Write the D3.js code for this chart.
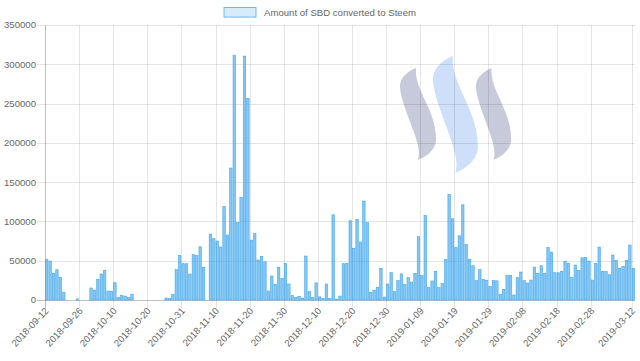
<!DOCTYPE html>
<html><head><meta charset="utf-8">
<script src="https://cdn.jsdelivr.net/npm/d3@7"></script>
<style>html,body{margin:0;padding:0;background:#fff}svg{display:block}</style>
</head><body>
<script>
const dates = [
"2018-09-12","2018-09-13","2018-09-14","2018-09-15","2018-09-16","2018-09-17","2018-09-19","2018-09-21","2018-09-23","2018-09-25",
"2018-09-26","2018-09-28","2018-09-30","2018-10-02","2018-10-03","2018-10-04","2018-10-05","2018-10-06","2018-10-07","2018-10-09",
"2018-10-10","2018-10-11","2018-10-12","2018-10-13","2018-10-14","2018-10-15","2018-10-16","2018-10-17","2018-10-18","2018-10-19",
"2018-10-20","2018-10-21","2018-10-22","2018-10-23","2018-10-24","2018-10-25","2018-10-26","2018-10-27","2018-10-28","2018-10-29",
"2018-10-31",
"2018-11-01","2018-11-02","2018-11-03","2018-11-04","2018-11-05","2018-11-06","2018-11-07","2018-11-08","2018-11-09","2018-11-10",
"2018-11-11","2018-11-12","2018-11-13","2018-11-14","2018-11-15","2018-11-16","2018-11-17","2018-11-18","2018-11-19","2018-11-20",
"2018-11-21","2018-11-22","2018-11-23","2018-11-24","2018-11-25","2018-11-26","2018-11-27","2018-11-28","2018-11-29","2018-11-30",
"2018-12-01","2018-12-02","2018-12-03","2018-12-04","2018-12-05","2018-12-06","2018-12-07","2018-12-08","2018-12-09","2018-12-10",
"2018-12-11","2018-12-12","2018-12-13","2018-12-14","2018-12-15","2018-12-16","2018-12-17","2018-12-18","2018-12-19","2018-12-20",
"2018-12-21","2018-12-22","2018-12-23","2018-12-24","2018-12-25","2018-12-26","2018-12-27","2018-12-28","2018-12-29","2018-12-30","2018-12-31",
"2019-01-01","2019-01-02","2019-01-03","2019-01-04","2019-01-05","2019-01-06","2019-01-07","2019-01-08","2019-01-09","2019-01-10",
"2019-01-11","2019-01-12","2019-01-13","2019-01-14","2019-01-15","2019-01-16","2019-01-17","2019-01-18","2019-01-19","2019-01-20",
"2019-01-21","2019-01-22","2019-01-23","2019-01-24","2019-01-25","2019-01-26","2019-01-27","2019-01-28","2019-01-29","2019-01-30","2019-01-31",
"2019-02-01","2019-02-02","2019-02-03","2019-02-04","2019-02-05","2019-02-06","2019-02-07","2019-02-08","2019-02-09","2019-02-10",
"2019-02-11","2019-02-12","2019-02-13","2019-02-14","2019-02-15","2019-02-16","2019-02-17","2019-02-18","2019-02-19","2019-02-20",
"2019-02-21","2019-02-22","2019-02-23","2019-02-24","2019-02-25","2019-02-26","2019-02-27","2019-02-28",
"2019-03-01","2019-03-02","2019-03-03","2019-03-04","2019-03-05","2019-03-06","2019-03-07","2019-03-08","2019-03-09","2019-03-10","2019-03-11","2019-03-12"
];
const sbdConverted = [
52000,49500,34000,38500,29000,10000,0,0,0,1500,
0,0,0,15300,12700,26300,33100,37800,11400,11000,
22000,3400,6000,5000,3000,7400,0,0,0,0,
0,0,0,0,0,2500,1700,7200,38600,56800,
46200,46200,33100,57700,56400,67800,41600,0,84000,78000,
75000,67400,119000,82700,168000,311600,98400,130600,310400,256500,
76300,84400,50900,55600,48700,11400,30500,20000,41600,27600,
46700,20400,5500,3400,4700,2500,56000,10600,3200,21800,
4000,1700,20400,1700,108500,1000,5000,46200,46700,100900,
65800,102600,73800,125900,98400,9800,12700,16100,40300,3800,
20400,34800,10600,24600,33300,19500,28400,22900,33900,80600,
31000,107700,16100,24200,36500,15700,20800,51800,134400,103400,
67000,81800,121200,70400,51800,43600,24600,38600,26300,25200,
17000,25000,24400,7400,13600,31400,31400,6400,28400,35600,
24600,21600,25400,41900,33900,43600,33900,66900,61000,34700,
34700,36400,49400,46600,28400,44500,37700,53800,54200,49600,
25400,46600,67400,36400,36400,32200,57200,50400,40300,42800,
50400,69900,40300
];
const tickLabels = ["2018-09-12","2018-09-26","2018-10-10","2018-10-20","2018-10-31","2018-11-10","2018-11-20","2018-11-30","2018-12-10","2018-12-20","2018-12-30","2019-01-09","2019-01-19","2019-01-29","2019-02-08","2019-02-18","2019-02-28","2019-03-12"];
const yTicks = [0,50000,100000,150000,200000,250000,300000,350000];
const seriesName = "Amount of SBD converted to Steem";

const W = 640, H = 361;
const m = {left:45, right:5, top:25, bottom:61};
const svg = d3.select("body").append("svg").attr("width", W).attr("height", H);
const font = "'Liberation Sans', Arial, Helvetica, sans-serif";
const fs = 9.6;

const x = d3.scaleBand().domain(dates).range([m.left, W - m.right]).paddingInner(0).paddingOuter(0);
const y = d3.scaleLinear().domain([0, 350000]).range([H - m.bottom, m.top]);
const step = x.step();

// Steem logo watermark
const blade = "M0.432,0 C0.378,0.239 0.973,0.457 0.973,0.761 C1.0,0.87 0.757,0.957 0.486,1 C0.649,0.837 0.054,0.457 0,0.217 C-0.027,0.109 0.216,0.033 0.432,0 Z";
const logo = svg.append("g");
[{x0:400,y0:68,w:37,h:92,c:"#c7cadb"},{x0:433,y0:56,w:46,h:117,c:"#cddff9"},{x0:476,y0:68,w:36,h:92,c:"#c7cadb"}].forEach(s=>{
  logo.append("path").attr("d", blade).attr("fill", s.c)
    .attr("transform", `translate(${s.x0},${s.y0}) scale(${s.w},${s.h})`);
});

// horizontal grid
svg.append("g").selectAll("line").data(yTicks).join("line")
  .attr("x1", m.left - 8).attr("x2", W - m.right)
  .attr("y1", d => Math.round(y(d)) + 0.5).attr("y2", d => Math.round(y(d)) + 0.5)
  .attr("stroke", d => d === 0 ? "rgba(0,0,0,0.25)" : "rgba(0,0,0,0.1)").attr("stroke-width", 1);

// vertical grid
svg.append("g").selectAll("line").data(tickLabels).join("line")
  .attr("x1", d => Math.round(x(d)) + 0.5).attr("x2", d => Math.round(x(d)) + 0.5)
  .attr("y1", m.top).attr("y2", H - m.bottom + 8)
  .attr("stroke", (d,i) => i === 0 ? "rgba(0,0,0,0.25)" : "rgba(0,0,0,0.1)").attr("stroke-width", 1);

// bars
const bw = step * 0.72;
svg.append("g").selectAll("rect").data(dates.map((d,i)=>({d, v: sbdConverted[i]})).filter(o=>o.v>0)).join("rect")
  .attr("x", o => x(o.d) + (step - bw) / 2)
  .attr("y", o => y(o.v))
  .attr("width", bw)
  .attr("height", o => y(0) - y(o.v))
  .attr("fill", "rgba(54,162,235,0.6)")
  .attr("stroke", "rgba(54,162,235,0.9)")
  .attr("stroke-width", 0.6);

// y labels
svg.append("g").selectAll("text").data(yTicks).join("text")
  .attr("x", m.left - 9).attr("y", d => y(d)).attr("dy", "0.35em")
  .attr("text-anchor", "end").attr("font-family", font).attr("font-size", fs).attr("fill", "#666")
  .text(d => d);

// x labels
svg.append("g").selectAll("text").data(tickLabels).join("text")
  .attr("transform", d => `translate(${x(d) + step/2},${H - m.bottom + 9}) rotate(-47)`)
  .attr("dy", "0.35em")
  .attr("text-anchor", "end").attr("font-family", font).attr("font-size", fs).attr("fill", "#666")
  .text(d => d);

// legend
const legTextW = 152, boxW = 32, gap = 8;
const legX = W / 2 - (boxW + gap + legTextW) / 2;
svg.append("rect").attr("x", legX).attr("y", 7.5).attr("width", boxW).attr("height", 9.6)
  .attr("fill", "rgba(54,162,235,0.2)").attr("stroke", "rgba(54,162,235,0.7)").attr("stroke-width", 1);
svg.append("text").attr("x", legX + boxW + gap).attr("y", 12.3).attr("dy", "0.35em")
  .attr("font-family", font).attr("font-size", fs).attr("fill", "#666").text(seriesName);
</script>
</body></html>
